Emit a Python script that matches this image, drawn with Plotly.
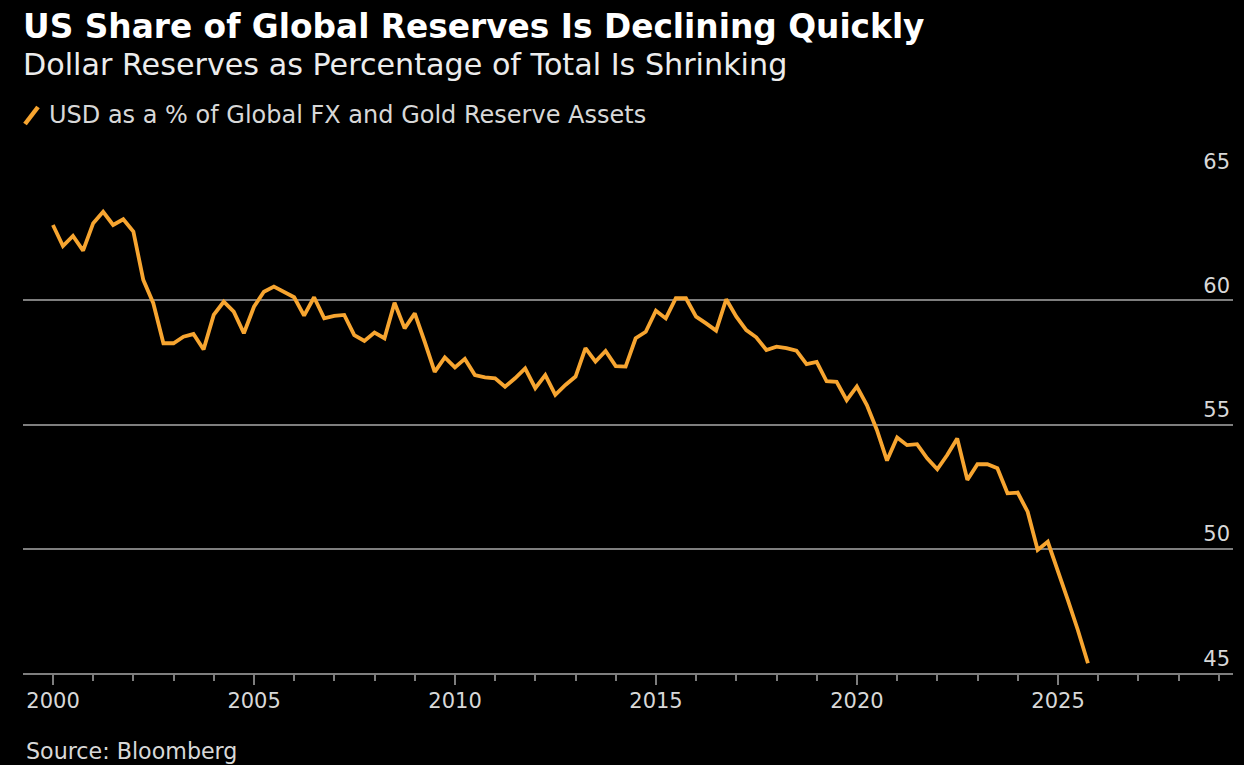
import pandas as pd
import plotly.graph_objects as go

# Quarter-end observations, Q4 1999 through Q3 2025
quarters = pd.date_range("1999-12-31", periods=104, freq="QE")
usd_share = [
    63.03, 62.18, 62.59, 62.00, 63.10, 63.56, 63.03, 63.26, 62.76, 60.82,
    59.88, 58.27, 58.27, 58.53, 58.64, 58.02, 59.41, 59.94, 59.54, 58.67,
    59.74, 60.34, 60.55, 60.34, 60.12, 59.38, 60.12, 59.27, 59.37, 59.41,
    58.60, 58.36, 58.70, 58.47, 59.90, 58.87, 59.47, 58.33, 57.12, 57.70,
    57.30, 57.64, 56.99, 56.90, 56.86, 56.52, 56.86, 57.26, 56.46, 56.99,
    56.19, 56.59, 56.93, 58.07, 57.53, 57.96, 57.35, 57.33, 58.47, 58.73,
    59.58, 59.27, 60.08, 60.08, 59.34, 59.07, 58.78, 60.04, 59.34, 58.80,
    58.51, 58.00, 58.13, 58.07, 57.97, 57.43, 57.52, 56.74, 56.72, 55.98,
    56.53, 55.78, 54.78, 53.55, 54.48, 54.17, 54.21, 53.64, 53.20, 53.77,
    54.44, 52.77, 53.40, 53.40, 53.24, 52.23, 52.26, 51.49, 49.95, 50.28,
    49.15, 47.94, 46.73, 45.39,
]
y_ticks = [45, 50, 55, 60, 65]
x_ticks = ["2000", "2005", "2010", "2015", "2020", "2025"]

title = "US Share of Global Reserves Is Declining Quickly"
subtitle = "Dollar Reserves as Percentage of Total Is Shrinking"
series_name = "USD as a % of Global FX and Gold Reserve Assets"
source = "Source: Bloomberg"

ORANGE = "#f7a530"
GRID = "#7e7e7e"
TEXT = "#d8d8d8"
FONT = "DejaVu Sans, Verdana, sans-serif"

W, H = 1244, 765
ML, MR, MT, MB = 23, 11, 176, 92
PW, PH = W - ML - MR, H - MT - MB


def px_x(x):
    return (x - ML) / PW


def px_y(y):
    return (H - MB - y) / PH


fig = go.Figure()
fig.add_trace(go.Scatter(
    x=quarters, y=usd_share, mode="lines", name=series_name,
    line=dict(color=ORANGE, width=3.8), showlegend=False,
))

fig.update_layout(
    width=W, height=H,
    margin=dict(l=ML, r=MR, t=MT, b=MB, pad=0),
    paper_bgcolor="#000000", plot_bgcolor="#000000",
    font=dict(family=FONT, color=TEXT, size=22),
    xaxis=dict(
        type="date",
        range=["1999-04-03", "2029-05-10"],
        tickmode="array",
        tickvals=[f"{t}-01-01" for t in x_ticks],
        ticktext=x_ticks,
        ticks="outside", ticklen=10, tickwidth=2, tickcolor=GRID,
        minor=dict(dtick="M12", tick0="2000-01-01", ticks="outside",
                   ticklen=6, tickwidth=1.5, tickcolor=GRID, showgrid=False),
        showgrid=False, zeroline=False,
        showline=True, linecolor=GRID, linewidth=2,
        tickfont=dict(size=21, color=TEXT),
        ticklabelstandoff=-2,
        fixedrange=True,
    ),
    yaxis=dict(
        range=[45, 65],
        tickmode="array", tickvals=y_ticks,
        side="right", ticklabelposition="inside top",
        ticklabeloverflow="allow",
        ticks="", showline=False, zeroline=False,
        showgrid=True, gridcolor=GRID, gridwidth=2,
        tickfont=dict(size=21, color=TEXT),
        fixedrange=True,
    ),
)

annotations = [
    dict(text=f"<b>{title}</b>", x=px_x(21), y=px_y(27),
         font=dict(size=32.8, color="#ffffff")),
    dict(text=subtitle, x=px_x(21), y=px_y(65),
         font=dict(size=30.2, color="#ececec")),
    dict(text=series_name, x=px_x(47), y=px_y(115),
         font=dict(size=24, color=TEXT)),
    dict(text=source, x=px_x(24), y=px_y(751),
         font=dict(size=22.2, color=TEXT)),
]
for a in annotations:
    a.update(xref="paper", yref="paper", xanchor="left", yanchor="middle",
             showarrow=False)
fig.update_layout(annotations=annotations)

# Slanted legend key for the series
fig.add_shape(type="line", xref="paper", yref="paper",
              x0=px_x(25), y0=px_y(124), x1=px_x(38), y1=px_y(107),
              line=dict(color=ORANGE, width=4.5))

fig.write_html("out.html")
